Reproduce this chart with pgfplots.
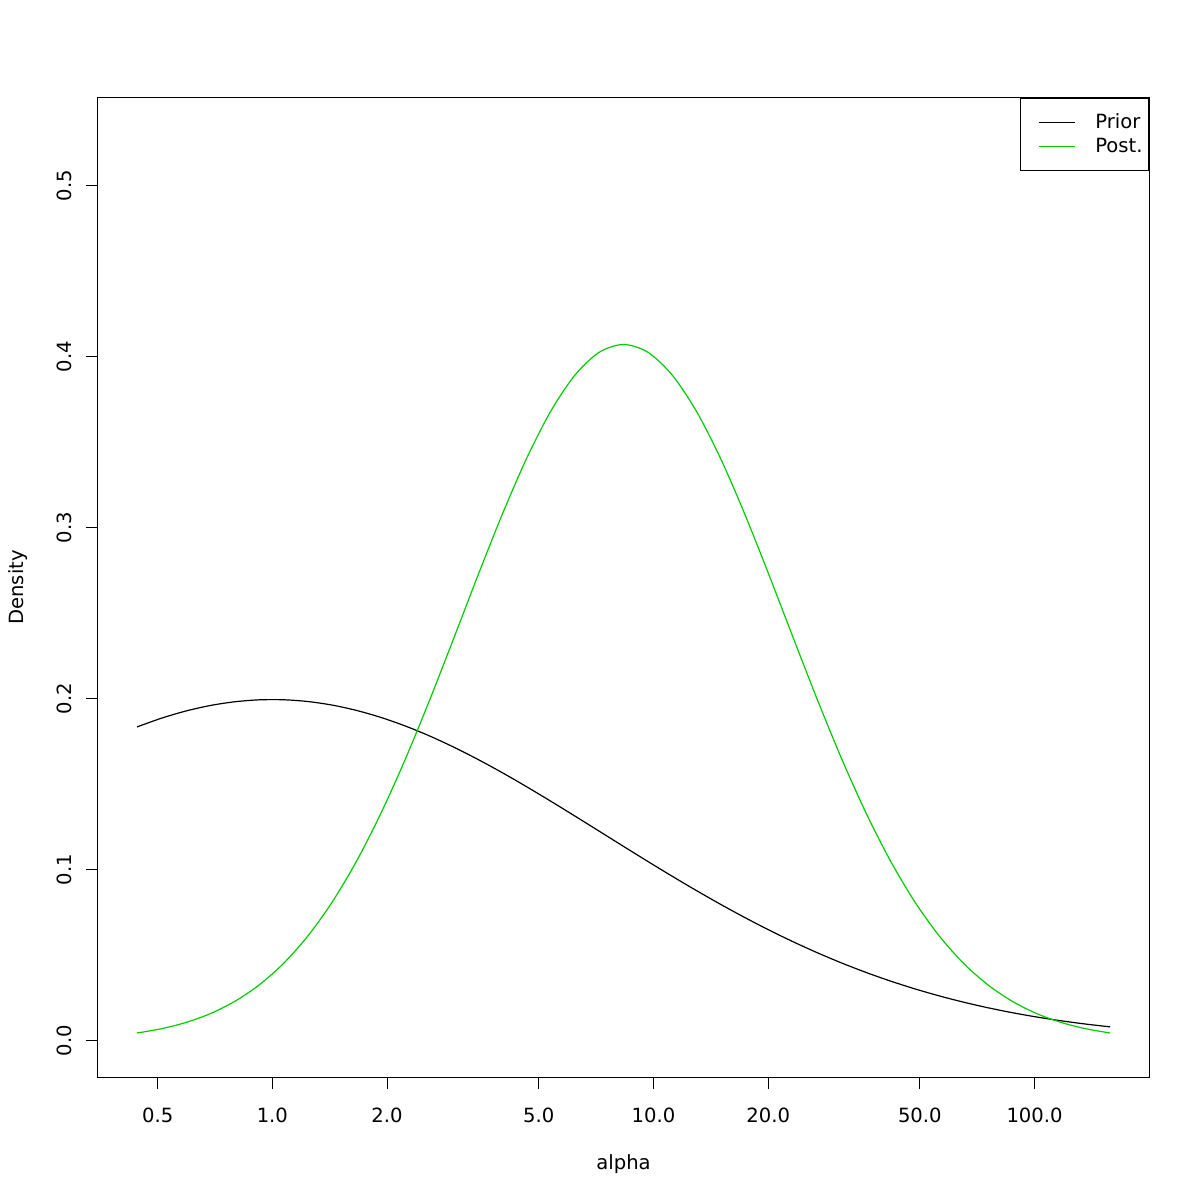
\documentclass[border=0pt]{standalone}
\usepackage{pgfplots}
\pgfplotsset{compat=1.18}
\usepackage{fontspec}
\setmainfont{DejaVu Sans}
\definecolor{rgreen}{HTML}{00CD00}
\pgfplotstableread{
alpha prior post
0.44131 0.18347 0.00452
0.51120 0.18855 0.00701
0.59215 0.19274 0.01063
0.68592 0.19596 0.01576
0.79453 0.19815 0.02285
0.92035 0.19930 0.03239
1.06609 0.19937 0.04488
1.23492 0.19836 0.06081
1.43047 0.19630 0.08056
1.65699 0.19321 0.10435
1.91938 0.18915 0.13216
2.22332 0.18417 0.16365
2.57539 0.17836 0.19815
2.98321 0.17180 0.23457
3.45561 0.16459 0.27151
4.00282 0.15684 0.30728
4.63669 0.14864 0.34002
5.37092 0.14011 0.36788
6.22143 0.13136 0.38917
7.20662 0.12250 0.40253
8.34782 0.11361 0.40708
9.66973 0.10481 0.40253
11.20097 0.09616 0.38917
12.97468 0.08776 0.36788
15.02927 0.07965 0.34002
17.40923 0.07191 0.30728
20.16604 0.06456 0.27151
23.35941 0.05766 0.23457
27.05847 0.05122 0.19815
31.34327 0.04525 0.16365
36.30662 0.03976 0.13216
42.05590 0.03475 0.10435
48.71566 0.03021 0.08056
56.43000 0.02612 0.06081
65.36587 0.02246 0.04488
75.71678 0.01921 0.03239
87.70682 0.01634 0.02285
101.5955 0.01383 0.01576
117.6836 0.01163 0.01063
136.3193 0.00974 0.00701
157.9061 0.00811 0.00452
}\densdata
\begin{document}
\fontsize{9.8bp}{11.8bp}\selectfont
\begin{tikzpicture}
\useasboundingbox (0,0) rectangle (600bp,600bp);
\begin{axis}[
  at={(49bp,61.5bp)}, anchor=south west,
  scale only axis, width=525.5bp, height=489.5bp,
  xmode=log, xmin=0.3487, xmax=199.7, ymin=-0.0212, ymax=0.5512,
  xtick={0.5,1,2,5,10,20,50,100},
  xticklabels={0.5,1.0,2.0,5.0,10.0,20.0,50.0,100.0},
  minor xtick={},
  ytick={0,0.1,0.2,0.3,0.4,0.5},
  yticklabels={0.0,0.1,0.2,0.3,0.4,0.5},
  tick align=outside, xtick pos=left, ytick pos=left,
  major tick length=6bp,
  tick style={black, line width=0.5bp},
  axis line style={line width=0.5bp},
  xticklabel style={anchor=base, font=\fontsize{9.8bp}{11.8bp}\selectfont},
  xticklabel shift=16.5bp,
  yticklabel style={rotate=90, anchor=base, font=\fontsize{9.8bp}{11.8bp}\selectfont},
  yticklabel shift=7.5bp,
  xlabel={alpha}, ylabel={Density},
  every axis x label/.style={at={([yshift=-46bp]axis description cs:0.5,0)}, anchor=base, font=\fontsize{9.8bp}{11.8bp}\selectfont},
  every axis y label/.style={at={([xshift=-37bp]axis description cs:0,0.5)}, rotate=90, anchor=base, font=\fontsize{9.8bp}{11.8bp}\selectfont},
  legend cell align=left,
  legend style={at={(1,1)}, anchor=north east, draw=black, line width=0.5bp,
    inner xsep=3bp, inner ysep=6bp, row sep=0pt,
    nodes={inner sep=0pt, minimum height=12bp},
    font=\fontsize{9.8bp}{11.8bp}\selectfont,
    /tikz/every odd column/.style={column sep=10bp}},
  legend image code/.code={\path (0bp,0bp); \draw[#1] (6bp,0bp) -- (24bp,0bp);},
]
\addplot[black, line width=0.6bp, smooth] table[x=alpha, y=prior] {\densdata};
\addlegendentry{Prior}
\addplot[rgreen, line width=0.6bp, smooth] table[x=alpha, y=post] {\densdata};
\addlegendentry{Post.}
\end{axis}
\end{tikzpicture}
\end{document}
